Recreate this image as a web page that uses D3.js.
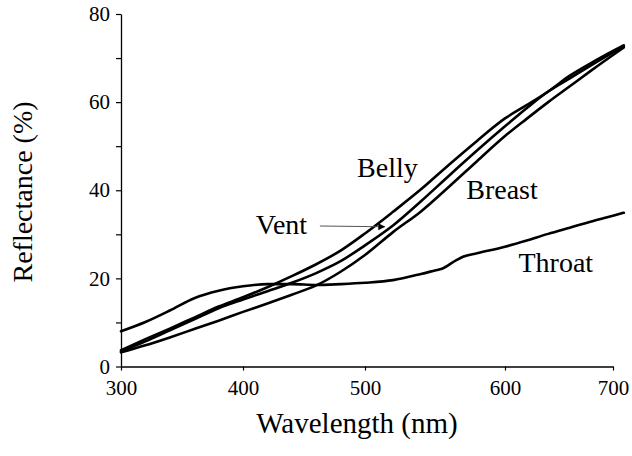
<!DOCTYPE html>
<html><head><meta charset="utf-8">
<script src="https://cdn.jsdelivr.net/npm/d3@7"></script>
<style>body{margin:0;background:#fff}svg{display:block}</style>
</head><body>
<svg id="c" width="632" height="456"></svg>
<script>
// ---- data ----
const wavelengths = [300,320,340,360,380,400,420,440,460,480,500,520,540,560,580,600,620,640,660,680,700,710];
const belly  = [3.7,6.2,8.6,11.1,13.6,15.7,18.0,20.5,23.2,26.3,30.2,35.1,40.2,45.8,51.2,56.3,59.3,62.4,66.0,68.9,71.6,72.9];
const vent   = [3.4,5.7,8.2,10.7,13.2,15.2,17.1,19.0,21.2,23.9,27.5,32.0,37.5,43.3,49.0,54.5,58.6,62.4,65.4,68.4,71.3,72.7];
const breast = [3.2,4.8,6.6,8.5,10.4,12.4,14.3,16.3,18.4,21.5,25.3,30.5,35.2,40.8,46.6,52.3,56.2,60.0,63.6,67.2,70.7,72.4];
const throatWavelengths = [300,320,340,360,380,400,420,440,460,480,500,520,540,550,555,565,570,580,600,620,640,660,680,700,710];
const throat = [8.0,10.1,12.7,15.5,17.2,18.2,18.7,18.7,18.5,18.7,19.0,19.6,21.0,21.8,22.2,24.1,24.9,25.7,27.2,28.6,30.1,31.5,32.9,34.2,34.9];
const xTickValues = [300,400,500,600,700];
const yTickValues = [0,10,20,30,40,50,60,70,80];
const yLabelValues = [0,20,40,60,80];
const seriesNames = ["Belly","Breast","Vent","Throat"];
// label anchors in data units [wavelength, reflectance]
const labelAt = {Belly:[493.5,43.0], Breast:[572.3,38.0], Vent:[410.5,30.1], Throat:[612.5,21.4]};
const arrowFrom = [463,31.9], arrowTo = [514,31.7];

// ---- drawing ----
const FONT = "'Liberation Serif','Times New Roman',Times,serif";
const svg = d3.select("#c");
const x = d3.scaleLinear().domain(xTickValues).range([121,243,365,505,613]);
const y = d3.scaleLinear().domain([0,80]).range([366.5,14]);

const xAxis = d3.axisBottom(x).tickValues(xTickValues).tickSize(4).tickSizeOuter(0).tickPadding(10);
const gx = svg.append("g").attr("transform",`translate(0,${y(0)})`).call(xAxis)
  .attr("font-family",FONT).attr("font-size",21);
gx.select(".domain").attr("stroke","#000").attr("stroke-width",1.3);
gx.selectAll(".tick line").attr("stroke","#000").attr("stroke-width",1.2);
gx.selectAll(".tick text").attr("fill","#000");

const yAxis = d3.axisLeft(y).tickValues(yTickValues).tickSize(5).tickSizeOuter(0).tickPadding(6)
  .tickFormat(d => yLabelValues.includes(d) ? d : "");
const gy = svg.append("g").attr("transform",`translate(${x(300)},0)`).call(yAxis)
  .attr("font-family",FONT).attr("font-size",21);
gy.select(".domain").attr("stroke","#000").attr("stroke-width",1.3);
gy.selectAll(".tick line").attr("stroke","#000").attr("stroke-width",1.2);
gy.selectAll(".tick text").attr("fill","#000");

const line = d3.line().x(d=>x(d[0])).y(d=>y(d[1])).curve(d3.curveMonotoneX);
const series = [
  wavelengths.map((w,i)=>[w,belly[i]]),
  wavelengths.map((w,i)=>[w,breast[i]]),
  wavelengths.map((w,i)=>[w,vent[i]]),
  throatWavelengths.map((w,i)=>[w,throat[i]])
];
svg.append("g").selectAll("path").data(series).join("path")
  .attr("d",line).attr("fill","none").attr("stroke","#000").attr("stroke-width",2.6)
  .attr("stroke-linejoin","round").attr("stroke-linecap","round");

svg.append("g").attr("font-family",FONT).attr("font-size",28)
  .selectAll("text").data(seriesNames).join("text")
  .attr("x",d=>x(labelAt[d][0])).attr("y",d=>y(labelAt[d][1]))
  .attr("fill","#000").text(d=>d);

// arrow from Vent label
svg.append("defs").append("marker").attr("id","ah").attr("viewBox","0 0 10 10")
  .attr("refX",9).attr("refY",5).attr("markerWidth",10).attr("markerHeight",7)
  .attr("markerUnits","userSpaceOnUse").attr("orient","auto")
  .append("path").attr("d","M0,0L10,5L0,10Z").attr("fill","#000");
svg.append("line").attr("x1",x(arrowFrom[0])).attr("y1",y(arrowFrom[1]))
  .attr("x2",x(arrowTo[0])).attr("y2",y(arrowTo[1]))
  .attr("stroke","#555").attr("stroke-width",1.1).attr("marker-end","url(#ah)");

// axis titles
svg.append("text").attr("x",357).attr("y",433).attr("text-anchor","middle")
  .attr("font-family",FONT).attr("font-size",29).attr("fill","#000").text("Wavelength (nm)");
svg.append("text").attr("transform","translate(32,192) rotate(-90)").attr("text-anchor","middle")
  .attr("font-family",FONT).attr("font-size",28).attr("fill","#000").text("Reflectance (%)");
</script>
</body></html>
